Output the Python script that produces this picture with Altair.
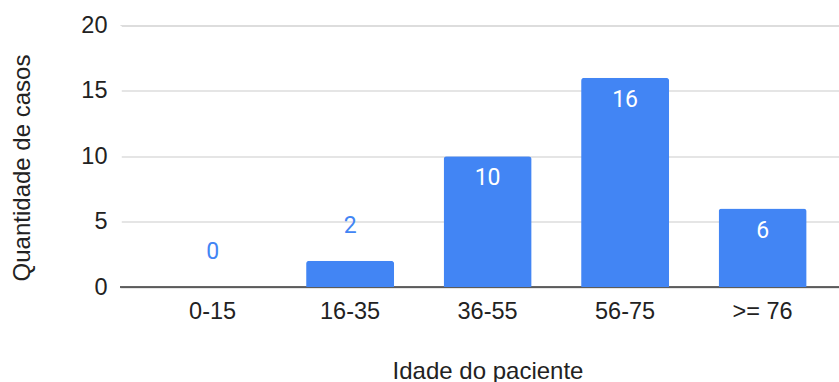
import altair as alt
import pandas as pd

# Age brackets and number of cases in each
faixas = ["0-15", "16-35", "36-55", "56-75", ">= 76"]
casos = [0, 2, 10, 16, 6]
y_ticks = [0, 5, 10, 15, 20]

df = pd.DataFrame({"faixa": faixas, "casos": casos})
# Labels go inside the bar when it is tall enough to hold them
df["dentro"] = df["casos"] >= 5

BLUE = "#4285F4"
FONT = "Liberation Sans"
LABEL_FONT = "Roboto"

x_scale = alt.Scale(paddingInner=0.36, paddingOuter=0.2945, align=0.6)
x_axis = alt.Axis(
    title="Idade do paciente",
    labelAngle=0,
    labelFont=FONT,
    labelFontSize=23.5,
    labelColor="#222222",
    labelPadding=12,
    ticks=False,
    domain=False,
    grid=False,
    titleFont=FONT,
    titleFontSize=24,
    titleFontWeight="normal",
    titleColor="#222222",
    titleX=367.5,
    titleY=91,
    titleBaseline="alphabetic",
)

y_scale = alt.Scale(domain=[0, 20], nice=False)
y_axis = alt.Axis(
    title="Quantidade de casos",
    values=y_ticks,
    labelFont=FONT,
    labelFontSize=23.5,
    labelColor="#222222",
    labelPadding=13,
    ticks=False,
    domain=True,
    domainColor="white",
    domainWidth=2.5,
    grid=True,
    gridColor="#cccccc",
    gridWidth=1.2,
    titleFont=FONT,
    titleFontSize=24,
    titleFontWeight="normal",
    titleColor="#222222",
    titleX=-98,
    titleY=142,
    titleBaseline="middle",
)

x_enc = alt.X("faixa:N", sort=faixas, scale=x_scale, axis=x_axis)
y_enc = alt.Y("casos:Q", scale=y_scale, axis=y_axis)

base = alt.Chart(df)

# Dark zero line under the bars
baseline = alt.Chart(pd.DataFrame({"casos": [0]})).mark_rule(
    color="#333333", strokeWidth=1.5
).encode(y=y_enc)

bars = base.mark_bar(
    color=BLUE, cornerRadiusTopLeft=3, cornerRadiusTopRight=3
).encode(x=x_enc, y=y_enc)

labels_in = base.transform_filter("datum.dentro").mark_text(
    font=LABEL_FONT, fontSize=23, color="white", baseline="alphabetic", dy=29
).encode(x=x_enc, y=y_enc, text="casos:Q")

labels_out = base.transform_filter("!datum.dentro").mark_text(
    font=LABEL_FONT, fontSize=23, color=BLUE, baseline="alphabetic", dy=-28
).encode(x=x_enc, y=y_enc, text="casos:Q")

chart = (
    alt.layer(baseline, bars, labels_in, labels_out)
    .properties(
        width=719,
        height=261.5,
        autosize=alt.AutoSizeParams(type="none"),
        padding={"left": 120, "top": 25.5, "right": 0, "bottom": 95},
    )
    .configure_view(stroke="transparent")
    .configure(background="white")
)

chart.save("out.html", embed_options={"renderer": "svg", "actions": False})
